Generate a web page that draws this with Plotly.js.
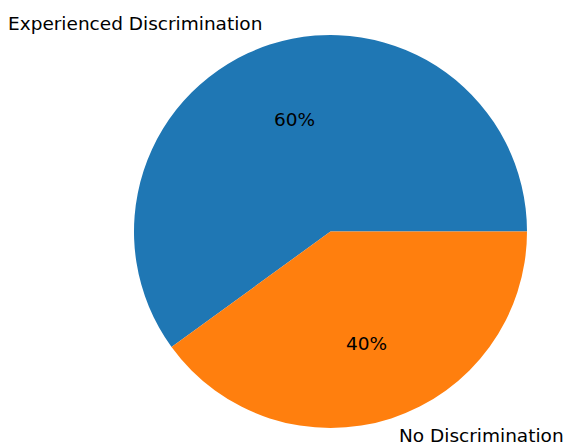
<!DOCTYPE html>
<html><head><meta charset="utf-8">
<script src="https://cdn.plot.ly/plotly-3.0.1.min.js"></script>
<style>html,body{margin:0;padding:0;background:#fff;}</style>
</head><body>
<div id="chart" style="width:565px;height:448px;"></div>
<script>
const labels = ["Experienced Discrimination", "No Discrimination"];
const values = [60, 40];
const colors = ["#1f77b4", "#ff7f0e"];

const W = 565, H = 448;
const cx = 330.5, cy = 231.5, R = 196.5;
const FONT = "DejaVu Sans, sans-serif";
const FS = 18.5;

const total = values.reduce((a, b) => a + b, 0);
const annotations = [];
let start = 0;
values.forEach((v, i) => {
  const frac = v / total;
  const mid = (start + frac / 2) * 2 * Math.PI;
  start += frac;
  const cos = Math.cos(mid), sin = Math.sin(mid);
  annotations.push({
    xref: "paper", yref: "paper",
    x: (cx + 0.6 * R * cos) / W, y: 1 - (cy - 0.6 * R * sin) / H,
    text: Math.round(frac * 100) + "%", showarrow: false,
    xanchor: "center", yanchor: "middle",
    font: {family: FONT, size: FS, color: "#000"}
  });
  annotations.push({
    xref: "paper", yref: "paper",
    x: (cx + 1.1 * R * cos) / W, y: 1 - (cy - 1.1 * R * sin - 2) / H,
    text: labels[i], showarrow: false,
    xanchor: cos < 0 ? "right" : "left", yanchor: "middle",
    font: {family: FONT, size: FS, color: "#000"}
  });
});

// first slice starts at 3 o'clock and runs counterclockwise (matplotlib style)
const rotation = 90 - 360 * values[0] / total;

const data = [{
  type: "pie",
  labels: labels,
  values: values,
  marker: {colors: colors, line: {width: 0}},
  sort: false,
  direction: "clockwise",
  rotation: rotation,
  textinfo: "none",
  hoverinfo: "none",
  domain: {x: [(cx - R) / W, (cx + R) / W], y: [1 - (cy + R) / H, 1 - (cy - R) / H]}
}];

const layout = {
  width: W, height: H,
  margin: {l: 0, r: 0, t: 0, b: 0},
  paper_bgcolor: "#fff",
  showlegend: false,
  annotations: annotations
};

Plotly.newPlot("chart", data, layout, {displayModeBar: false, staticPlot: true});
</script>
</body></html>
